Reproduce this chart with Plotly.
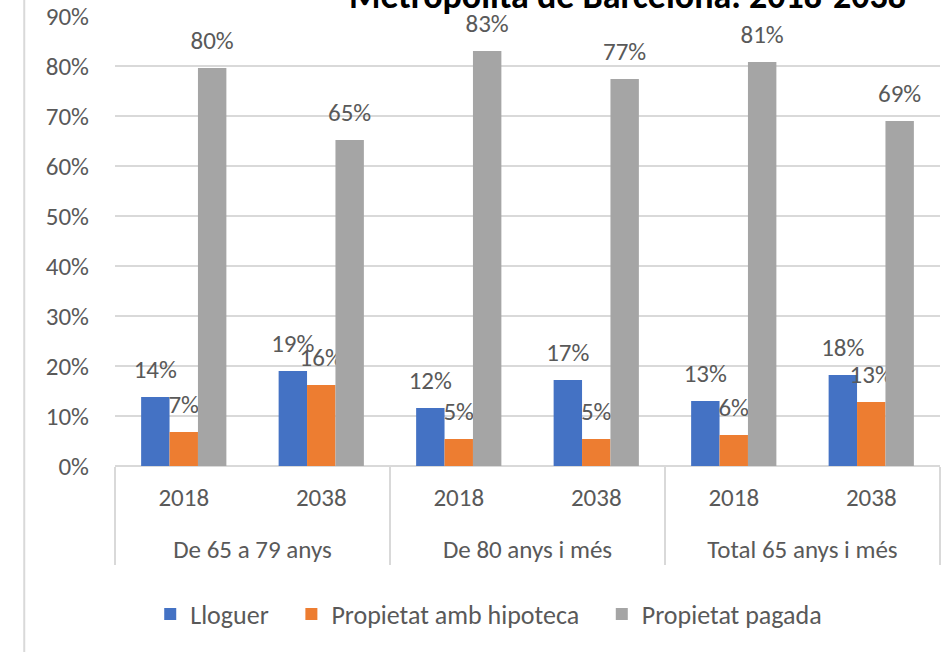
import plotly.graph_objects as go

# categories (two-level x axis)
groups = ["De 65 a 79 anys", "De 65 a 79 anys",
          "De 80 anys i més", "De 80 anys i més",
          "Total 65 anys i més", "Total 65 anys i més"]
years = ["2018", "2038", "2018", "2038", "2018", "2038"]

# shares
lloguer = [0.138, 0.190, 0.116, 0.172, 0.130, 0.182]
hipoteca = [0.068, 0.162, 0.054, 0.054, 0.062, 0.128]
pagada = [0.796, 0.652, 0.830, 0.774, 0.808, 0.690]

y_ticks = [0, 0.1, 0.2, 0.3, 0.4, 0.5, 0.6, 0.7, 0.8, 0.9]

FONT = "Calibri, Carlito, Lato, sans-serif"
GREY_TXT = "#595959"
GRID = "#d9d9d9"
FS = 25

NB = "\u00a0" * 3  # extra room between legend entries
series = [
    ("Lloguer" + NB, lloguer, "#4472c4"),
    ("Propietat amb hipoteca" + NB, hipoteca, "#ed7d31"),
    ("Propietat pagada", pagada, "#a5a5a5"),
]

# an empty second line under each year pushes the group row lower, like Excel does
year_lbl = [y + "<br>\u00a0" for y in years]

fig = go.Figure()
for name, vals, col in series:
    fig.add_trace(go.Bar(
        x=[groups, year_lbl],
        y=vals,
        name=name,
        marker=dict(color=col, line=dict(width=0)),
        # small trailing line = extra gap between label and bar
        texttemplate="<span style='font-size:%dpx'>%%{y:.0%%}</span><br>\u00a0" % FS,
        textposition="outside",
        constraintext="none",
        cliponaxis=False,
        textfont=dict(family=FONT, size=10, color=GREY_TXT),
    ))

fig.update_layout(
    barmode="group",
    bargap=0.38,
    bargroupgap=0,
    width=943,
    height=652,
    margin=dict(l=115, r=3, t=16, b=186),
    paper_bgcolor="white",
    plot_bgcolor="white",
    font=dict(family=FONT, size=FS, color=GREY_TXT),
    legend=dict(
        orientation="h",
        x=0.453, xanchor="center",
        y=-0.329, yanchor="middle",
        font=dict(family=FONT, size=26, color=GREY_TXT),
    ),
    xaxis=dict(
        type="multicategory",
        automargin=False,
        showgrid=False,
        showline=False,
        showdividers=True,
        dividercolor=GRID,
        dividerwidth=1.5,
        ticklabelstandoff=14,
        tickfont=dict(family=FONT, size=FS, color=GREY_TXT),
    ),
    yaxis=dict(
        automargin=False,
        range=[0, 0.9],
        tickvals=y_ticks,
        tickformat=".0%",
        showgrid=True,
        gridcolor=GRID,
        gridwidth=1.5,
        zeroline=True,
        zerolinecolor=GRID,
        zerolinewidth=1.5,
        ticks="",
        ticklabelstandoff=25,
        tickfont=dict(family=FONT, size=FS, color=GREY_TXT),
    ),
    shapes=[dict(
        type="line", xref="paper", yref="paper",
        x0=-0.110, x1=-0.110, y0=-0.42, y1=1.05,
        line=dict(color=GRID, width=2),
    )],
    annotations=[dict(
        text="<b>Metropolita de Barcelona. 2018-2038</b>",
        xref="paper", yref="paper",
        x=0.621, xanchor="center",
        y=0.991, yanchor="bottom",
        showarrow=False,
        font=dict(family=FONT, size=36, color="black"),
    )],
)

# drop the default 8px page margin so the figure sits at the window corner
fig.write_html("out.html",
               config={"displayModeBar": False},
               post_script="document.body.style.margin='0';")
